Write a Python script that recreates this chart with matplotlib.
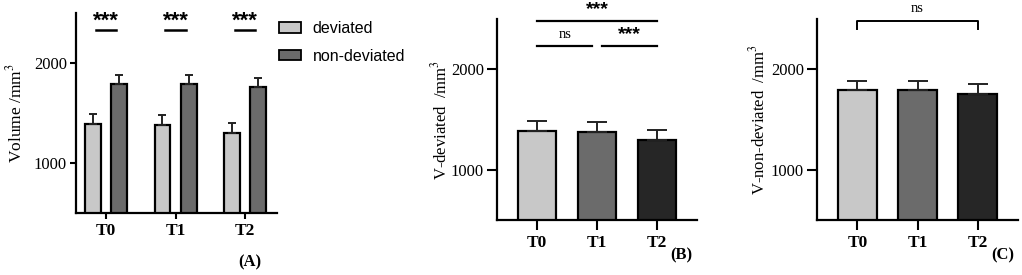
import numpy as np
import matplotlib
matplotlib.use('Agg')
import matplotlib.pyplot as plt

plt.rcParams['font.family'] = ['Liberation Serif', 'DejaVu Serif']
plt.rcParams['mathtext.fontset'] = 'stix'

# data
times = ['T0', 'T1', 'T2']
dev_mean = [1388, 1377, 1297]
dev_sd = [100, 101, 101]
nondev_mean = [1795, 1795, 1758]
nondev_sd = [87, 87, 92]
groups = ['deviated', 'non-deviated']

light = '#c8c8c8'
mid = '#6b6b6b'
dark = '#262626'

fig = plt.figure(figsize=(10.22, 2.75), dpi=100)
axA = fig.add_axes([0.0744, 0.2255, 0.1967, 0.727])
axB = fig.add_axes([0.4863, 0.20, 0.1957, 0.73])
axC = fig.add_axes([0.7994, 0.20, 0.1967, 0.73])


def style(ax, ticklen):
    for s in ['top', 'right']:
        ax.spines[s].set_visible(False)
    for s in ['left', 'bottom']:
        ax.spines[s].set_linewidth(1.6)
    ax.set_ylim(500, 2500)
    ax.set_yticks([1000, 2000])
    ax.tick_params(width=1.5, length=ticklen, labelsize=12)
    ax.tick_params(axis='y', pad=2.5)
    ax.set_xticks(range(3))
    ax.set_xticklabels(times, fontweight='bold', fontsize=12.5)


x = np.arange(3)

# (A)
w = 0.23
off = 0.187
ekwA = dict(lw=1.4, capsize=3, capthick=1.4, ecolor='#222222')
axA.bar(x - off, dev_mean, w, color=light, edgecolor='black', linewidth=1.6,
        yerr=[np.zeros(3), dev_sd], error_kw=ekwA, label=groups[0])
axA.bar(x + off, nondev_mean, w, color=mid, edgecolor='black', linewidth=1.6,
        yerr=[np.zeros(3), nondev_sd], error_kw=ekwA, label=groups[1])
style(axA, 4)
axA.set_xlim(-0.43, 2.46)
axA.set_ylabel('Volume /mm$^3$', fontsize=12.5, va='center')
axA.yaxis.set_label_coords(-0.30, 0.5)
for i in x:
    axA.plot([i - 0.145, i + 0.145], [2333, 2333], color='black', lw=1.8)
    axA.text(i, 2420, '***', ha='center', va='center', fontsize=16,
             fontweight='bold', family='Liberation Sans')
leg = axA.legend(loc='upper left', bbox_to_anchor=(1.01, 0.96), frameon=False,
                 prop={'family': 'Liberation Sans', 'size': 11.5},
                 borderaxespad=0, borderpad=0,
                 handlelength=1.4, handleheight=0.6, handletextpad=0.7,
                 labelspacing=0.8)
for p in leg.get_patches():
    p.set_linewidth(1.3)

# (B)
bw = 0.64
ekw = dict(lw=1.4, capsize=7, capthick=1.4, ecolor='#222222')
axB.bar(x, dev_mean, bw, color=[light, mid, dark], edgecolor='black',
        linewidth=1.6, yerr=[np.zeros(3), dev_sd], error_kw=ekw)
style(axB, 7)
axB.set_xlim(-0.67, 2.67)
axB.set_ylabel('V-deviated  /mm$^3$', fontsize=12, va='center')
axB.yaxis.set_label_coords(-0.285, 0.5)
axB.plot([0, 2], [2486, 2486], color='black', lw=1.6, clip_on=False)
axB.text(1, 2600, '***', ha='center', va='center', fontsize=14,
         fontweight='bold', family='Liberation Sans')
axB.plot([0, 0.92], [2233, 2233], color='black', lw=1.6, clip_on=False)
axB.plot([1.08, 2], [2233, 2233], color='black', lw=1.6, clip_on=False)
axB.text(0.46, 2345, 'ns', ha='center', va='center', fontsize=10.5)
axB.text(1.54, 2345, '***', ha='center', va='center', fontsize=14,
         fontweight='bold', family='Liberation Sans')

# (C)
axC.bar(x, nondev_mean, bw, color=[light, mid, dark], edgecolor='black',
        linewidth=1.6, yerr=[np.zeros(3), nondev_sd], error_kw=ekw)
style(axC, 7)
axC.set_xlim(-0.675, 2.675)
axC.set_ylabel('V-non-deviated  /mm$^3$', fontsize=12, va='center')
axC.yaxis.set_label_coords(-0.29, 0.5)
axC.plot([0, 0, 2, 2], [2400, 2486, 2486, 2400], color='black', lw=1.4,
         clip_on=False)
axC.text(1, 2610, 'ns', ha='center', va='center', fontsize=10.5)

fig.text(0.2446, 0.047, '(A)', ha='center', va='center', fontsize=12,
         fontweight='bold')
fig.text(0.667, 0.073, '(B)', ha='center', va='center', fontsize=12,
         fontweight='bold')
fig.text(0.981, 0.073, '(C)', ha='center', va='center', fontsize=12,
         fontweight='bold')

fig.savefig('out.png', dpi=100)
